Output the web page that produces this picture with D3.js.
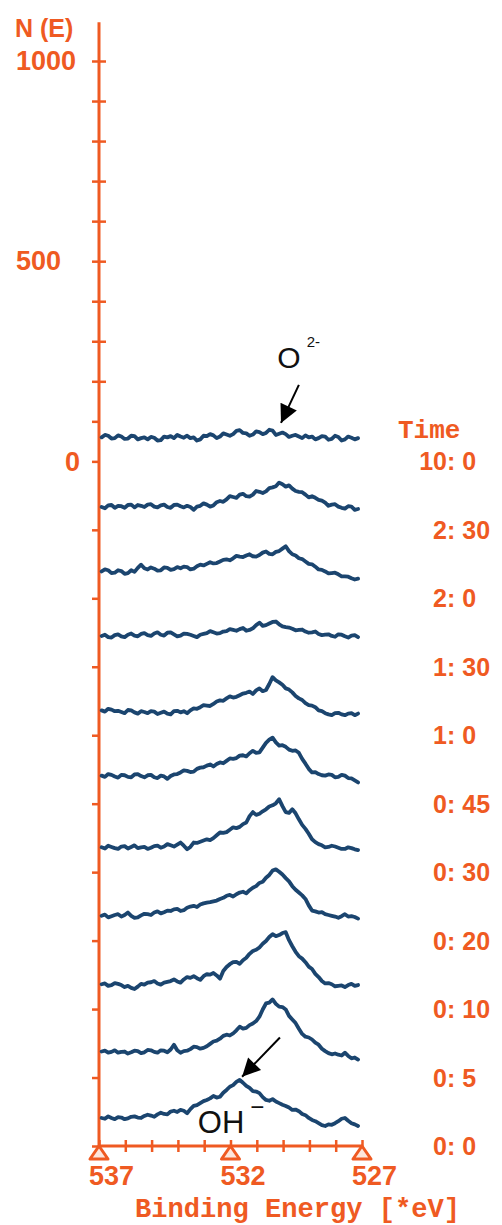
<!DOCTYPE html>
<html>
<head>
<meta charset="utf-8">
<script src="https://cdn.jsdelivr.net/npm/d3@7/dist/d3.min.js"></script>
<style>
  body { margin: 0; background: #fff; }
  svg { font-family: "Liberation Sans", Arial, sans-serif; }
</style>
</head>
<body>
<svg id="chart"></svg>
<script>
// binding energy grid (eV) the traces were read at, high -> low
const energies = [
  536.9, 536.775, 536.65, 536.525, 536.4, 536.275, 536.15, 536.025, 535.9, 535.775,
  535.65, 535.525, 535.4, 535.275, 535.15, 535.025, 534.9, 534.775, 534.65, 534.525,
  534.4, 534.275, 534.15, 534.025, 533.9, 533.775, 533.65, 533.525, 533.4, 533.275,
  533.15, 533.025, 532.9, 532.775, 532.65, 532.525, 532.4, 532.275, 532.15, 532.025,
  531.9, 531.775, 531.65, 531.525, 531.4, 531.275, 531.15, 531.025, 530.9, 530.775,
  530.65, 530.525, 530.4, 530.275, 530.15, 530.025, 529.9, 529.775, 529.65, 529.525,
  529.4, 529.275, 529.15, 529.025, 528.9, 528.775, 528.65, 528.525, 528.4, 528.275,
  528.15, 528.025, 527.9, 527.775, 527.65, 527.525, 527.4, 527.275, 527.15];

// sputter time of each scan, top trace first
const timeHours = ['10', '2', '2', '1', '1', '0', '0', '0', '0', '0', '0'];
const timeMinutes = ['0', '30', '0', '30', '0', '45', '30', '20', '10', '5', '0'];

// N(E) shift between stacked traces
const spectrumStep = 171;

// O1s traces, N(E) counts before stacking
const s10h00 = [60,66,64,57,58,65,62,56,57,64,63,55,58,60,55,61,59,52,53,62,60,63,58,66,62,59,64,58,60,52,55,64,63,68,65,58,62,70,67,64,68,76,78,71,70,64,67,75,73,68,71,79,77,66,69,72,68,61,64,66,62,58,65,60,62,55,58,63,62,54,56,64,61,52,55,62,59,55,58];
const s2h30 = [57,54,61,62,55,60,59,55,62,63,56,62,60,57,63,64,58,56,61,63,57,55,62,63,59,56,60,57,50,58,60,66,63,58,61,69,72,70,76,84,82,80,88,90,84,83,88,97,95,92,96,104,106,109,118,114,108,111,103,97,95,94,88,81,84,80,75,73,68,60,63,64,58,55,53,59,58,50,52];
const s2h00 = [67,72,70,63,64,70,68,61,63,70,66,76,84,75,72,77,74,69,70,77,76,71,73,78,75,79,78,72,74,80,84,82,86,90,87,88,92,96,97,95,100,106,104,103,107,110,105,104,108,114,117,111,110,116,118,124,130,118,110,107,100,98,92,86,85,79,72,71,67,62,63,64,60,55,55,54,50,47,49];
const s1h30 = [77,80,74,73,79,81,76,74,80,83,78,76,82,84,79,77,83,86,80,78,85,86,81,76,78,83,82,80,77,74,80,82,84,89,86,83,84,88,89,94,92,90,94,97,90,92,96,104,110,102,104,108,112,113,106,101,99,98,95,91,92,93,88,85,86,88,82,79,80,81,77,75,81,80,76,73,78,79,74];
const s1h00 = [62,59,66,64,60,61,58,55,63,62,57,54,60,58,55,60,59,53,56,59,54,52,60,61,57,60,55,62,67,66,70,75,74,73,78,84,87,86,92,97,94,96,100,104,106,109,103,112,117,110,113,128,145,137,132,126,117,114,107,98,92,88,80,75,74,70,62,60,55,52,50,55,56,52,50,54,55,50,54];
const s0h45 = [70,67,74,72,68,65,72,71,67,66,73,74,69,66,71,72,66,64,70,68,62,69,73,74,78,83,82,79,80,87,90,91,95,98,93,99,103,101,107,113,112,114,120,121,118,126,132,127,128,140,152,160,165,153,145,146,142,135,132,133,127,112,100,87,78,79,74,71,70,73,72,66,67,72,70,64,63,58,53];
const s0h30 = [62,59,66,63,60,58,64,65,59,63,67,60,62,63,58,61,65,66,61,64,70,67,64,69,74,66,57,63,74,73,76,79,82,80,85,92,99,98,100,106,112,110,113,120,124,140,150,143,146,152,157,164,167,172,182,165,150,148,157,147,132,118,108,96,82,75,70,67,62,63,66,64,61,58,58,62,60,57,55];
const s0h20 = [62,65,58,61,64,66,60,64,70,62,57,58,63,67,66,64,70,73,68,71,75,74,78,79,74,76,82,85,87,84,90,93,95,96,98,100,104,107,112,114,110,116,120,122,118,126,132,136,144,147,157,164,175,178,172,165,156,148,136,127,120,113,104,88,75,73,70,71,66,64,62,60,57,61,66,60,61,59,55];
const s0h10 = [62,64,58,60,65,63,60,55,58,53,50,56,63,61,66,67,70,64,61,66,68,70,74,69,66,74,80,78,82,77,73,82,87,86,90,84,76,95,105,112,117,118,113,122,128,138,145,148,154,163,170,180,187,182,185,190,192,172,157,143,132,126,117,106,100,88,80,70,64,65,62,57,58,59,55,60,63,58,60];
const s0h05 = [65,67,62,64,68,62,64,65,60,63,67,66,61,63,69,68,64,62,68,67,63,70,82,68,62,66,67,71,77,76,72,74,78,84,90,92,97,104,107,105,110,118,127,122,124,131,135,141,152,170,185,187,195,184,177,176,170,154,145,136,122,109,102,100,95,87,82,72,66,61,58,60,57,55,62,54,48,50,45];
const s0h00 = [70,68,74,70,67,72,71,67,69,73,74,71,70,75,78,76,73,79,83,80,79,86,88,85,90,88,82,92,100,102,107,112,115,119,125,121,123,133,140,148,152,160,165,158,150,145,137,136,132,122,115,113,117,111,107,103,100,96,90,91,87,80,77,70,65,62,57,52,50,54,53,57,62,68,70,63,57,54,50];

const spectra = [s10h00, s2h30, s2h00, s1h30, s1h00, s0h45, s0h30, s0h20, s0h10, s0h05, s0h00];

const yTickLabels = [1000, 500, 0];
const xTickLabels = [537, 532, 527];

// arrows: [label, superscript, text eV, text N, sup eV, sup N, tail eV, tail N, tip eV, tip N]
const annotations = [
  ['O', '2-', 529.78, 261, 528.85, 298, 529.40, 191, 530.08, 96],
  ['OH', '\u2212', 532.36, -1650, 530.98, -1612, 530.12, -1439, 531.56, -1537]
];

class StackedSpectra {

  constructor(_config) {
    this.config = {
      parentElement: _config.parentElement,
      containerWidth: _config.containerWidth || 502,
      containerHeight: _config.containerHeight || 1225,
      margin: {top: 61, right: 140, bottom: 79, left: 99}
    };
    this.initVis();
  }

  initVis() {
    let vis = this;
    const orange = '#ef5a22';

    vis.width = vis.config.containerWidth - vis.config.margin.left - vis.config.margin.right;
    vis.height = vis.config.containerHeight - vis.config.margin.top - vis.config.margin.bottom;

    vis.svg = d3.select(vis.config.parentElement)
      .attr('width', vis.config.containerWidth)
      .attr('height', vis.config.containerHeight);

    vis.svg.append('rect')
      .attr('width', vis.config.containerWidth)
      .attr('height', vis.config.containerHeight)
      .attr('fill', '#fff');

    vis.chart = vis.svg.append('g')
      .attr('transform', `translate(${vis.config.margin.left}, ${vis.config.margin.top})`);

    vis.xScale = d3.scaleLinear()
      .domain([537, 527])
      .range([0, 263]);

    // bottom of the scale is the last stacking offset
    vis.yScale = d3.scaleLinear()
      .domain([-spectrumStep * 10, 1000])
      .range([vis.height, 0]);

    vis.offsets = timeHours.map((d, i) => -i * spectrumStep);

    // ---- Y AXIS ----
    vis.chart.append('line')
      .attr('x1', 0).attr('x2', 0)
      .attr('y1', vis.yScale(1097))
      .attr('y2', vis.yScale(-spectrumStep * 10))
      .attr('stroke', orange)
      .attr('stroke-width', 3);

    const styleAxis = g => {
      g.select('.domain').remove();
      g.selectAll('.tick line').attr('stroke', orange).attr('stroke-width', 2.5);
      g.selectAll('.tick text').attr('fill', orange);
    };

    vis.chart.append('g')
      .call(d3.axisLeft(vis.yScale).tickValues(d3.range(100, 1001, 100)).tickSize(7).tickFormat(''))
      .call(styleAxis);

    vis.chart.append('g')
      .call(d3.axisRight(vis.yScale).tickValues(d3.range(200, 1001, 100)).tickSize(7).tickFormat(''))
      .call(styleAxis);

    vis.chart.append('g')
      .call(d3.axisLeft(vis.yScale).tickValues(vis.offsets).tickSize(7).tickFormat(''))
      .call(styleAxis);

    // the plotter put 1000 and 500 flush left, 0 next to the axis
    vis.chart.append('g')
      .call(d3.axisLeft(vis.yScale).tickValues(yTickLabels).tickSize(0).tickPadding(20).tickFormat(d3.format('d')))
      .call(styleAxis)
      .selectAll('.tick text')
        .attr('font-size', 27)
        .attr('font-weight', 'bold')
        .attr('font-family', '"Liberation Sans", Arial, sans-serif')
        .attr('text-anchor', d => d === 0 ? 'end' : 'start')
        .attr('x', d => d === 0 ? -19 : -83);

    vis.svg.append('text')
      .attr('x', 15)
      .attr('y', 37)
      .attr('fill', orange)
      .attr('font-size', 25)
      .attr('font-weight', 'bold')
      .text('N (E)');

    // ---- X AXIS ----
    vis.xAxisGroup = vis.chart.append('g')
      .attr('transform', `translate(0, ${vis.height})`);

    vis.xAxisGroup.append('line')
      .attr('x1', 0).attr('x2', 263)
      .attr('stroke', orange)
      .attr('stroke-width', 3);

    vis.xAxisGroup.append('g')
      .call(d3.axisBottom(vis.xScale).tickValues(d3.range(537, 526.5, -1)).tickSize(6).tickFormat(''))
      .call(styleAxis);
    vis.xAxisGroup.append('g')
      .call(d3.axisTop(vis.xScale).tickValues(d3.range(537, 526.5, -1)).tickSize(6).tickFormat(''))
      .call(styleAxis);

    // triangle markers under the labelled energies
    vis.xAxisGroup.selectAll('.tri')
      .data(xTickLabels)
      .join('path')
      .attr('class', 'tri')
      .attr('d', d => {
        const x = vis.xScale(d);
        return `M${x},0L${x - 9},13L${x + 9},13Z`;
      })
      .attr('fill', '#fde6dc')
      .attr('stroke', orange)
      .attr('stroke-width', 3)
      .attr('stroke-linejoin', 'round');

    vis.xAxisGroup.selectAll('.xlab')
      .data(xTickLabels)
      .join('text')
      .attr('class', 'xlab')
      .attr('x', d => vis.xScale(d) - 10)
      .attr('y', 39)
      .attr('fill', orange)
      .attr('font-size', 27)
      .attr('font-weight', 'bold')
      .text(d => d);

    vis.svg.append('text')
      .attr('x', 135)
      .attr('y', 1217)
      .attr('fill', orange)
      .attr('font-family', '"Liberation Mono", "DejaVu Sans Mono", monospace')
      .attr('font-size', 27)
      .attr('font-weight', 'bold')
      .attr('textLength', 325)
      .attr('lengthAdjust', 'spacingAndGlyphs')
      .text('Binding Energy [*eV]');

    // ---- TIME LABELS ----
    vis.svg.append('text')
      .attr('x', 398)
      .attr('y', 438)
      .attr('fill', orange)
      .attr('font-family', '"Liberation Mono", "DejaVu Sans Mono", monospace')
      .attr('font-size', 26)
      .attr('font-weight', 'bold')
      .text('Time');

    const colonX = 447 - vis.config.margin.left;
    vis.timeGroups = vis.chart.selectAll('.time')
      .data(vis.offsets)
      .join('g')
      .attr('class', 'time')
      .attr('transform', d => `translate(${colonX}, ${vis.yScale(d)})`);

    vis.timeGroups.append('text')
      .attr('text-anchor', 'end')
      .attr('dy', '0.36em')
      .attr('fill', orange)
      .attr('font-size', 25)
      .attr('font-weight', 'bold')
      .text((d, i) => timeHours[i]);

    vis.timeGroups.append('text')
      .attr('dy', '0.36em')
      .attr('fill', orange)
      .attr('font-size', 25)
      .attr('font-weight', 'bold')
      .text((d, i) => ':\u00a0' + timeMinutes[i]);

    vis.updateVis();
  }

  updateVis() {
    let vis = this;

    vis.line = d3.line()
      .x((d, i) => vis.xScale(energies[i]))
      .y(d => vis.yScale(d.v + d.off));

    vis.chart.selectAll('.trace')
      .data(spectra.map((s, i) => s.map(v => ({v: v, off: vis.offsets[i]}))))
      .join('path')
      .attr('class', 'trace')
      .attr('d', vis.line)
      .attr('fill', 'none')
      .attr('stroke', '#1b456f')
      .attr('stroke-width', 3.8)
      .attr('stroke-linejoin', 'round')
      .attr('stroke-linecap', 'round');

    // ---- ARROW ANNOTATIONS ----
    vis.defs = vis.svg.append('defs');
    vis.defs.append('marker')
      .attr('id', 'arrowhead')
      .attr('viewBox', '0 -5 10 10')
      .attr('refX', 10)
      .attr('refY', 0)
      .attr('markerUnits', 'userSpaceOnUse')
      .attr('markerWidth', 22)
      .attr('markerHeight', 18)
      .attr('orient', 'auto')
      .append('path')
      .attr('d', 'M0,-5L10,0L0,5Z')
      .attr('fill', '#000');

    const ann = vis.chart.selectAll('.ann')
      .data(annotations)
      .join('g')
      .attr('class', 'ann');

    ann.append('line')
      .attr('x1', d => vis.xScale(d[6]))
      .attr('y1', d => vis.yScale(d[7]))
      .attr('x2', d => vis.xScale(d[8]))
      .attr('y2', d => vis.yScale(d[9]))
      .attr('stroke', '#000')
      .attr('stroke-width', 2)
      .attr('marker-end', 'url(#arrowhead)');

    ann.append('text')
      .attr('x', d => vis.xScale(d[2]))
      .attr('y', d => vis.yScale(d[3]))
      .attr('text-anchor', 'middle')
      .attr('dy', '0.36em')
      .attr('font-size', (d, i) => i === 0 ? 30 : 31)
      .attr('fill', '#111')
      .text(d => d[0]);

    ann.append('text')
      .attr('x', d => vis.xScale(d[4]))
      .attr('y', d => vis.yScale(d[5]))
      .attr('text-anchor', 'middle')
      .attr('dy', '0.36em')
      .attr('font-size', (d, i) => i === 0 ? 15 : 24)
      .attr('fill', '#111')
      .text(d => d[1]);
  }
}

new StackedSpectra({parentElement: '#chart', containerWidth: 502, containerHeight: 1225});
</script>
</body>
</html>
